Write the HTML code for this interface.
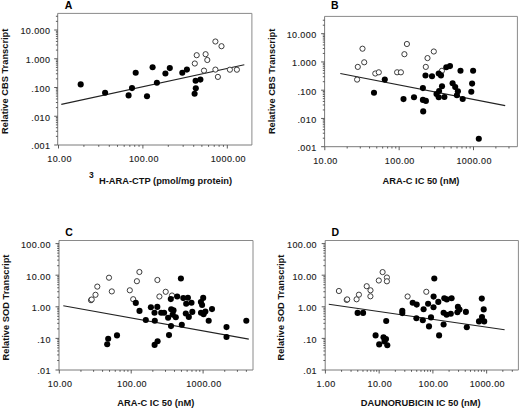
<!DOCTYPE html><html><head><meta charset="utf-8"><style>html,body{margin:0;padding:0;background:#fff;width:520px;height:409px;overflow:hidden}svg{display:block}text{font-family:"Liberation Sans", sans-serif}.t{font-size:9.0px;fill:#1a1a1a;stroke:#1a1a1a;stroke-width:0.12px;letter-spacing:0.4px}.b{font-size:9.3px;font-weight:bold;fill:#111}.p{font-size:10.5px;font-weight:bold;fill:#000}</style></head><body>
<svg width="520" height="409" viewBox="0 0 520 409">
<path d="M57.70 13.40H251.90V145.00" fill="none" stroke="#8a8a8a" stroke-width="1"/>
<path d="M57.70 13.40V145.00H251.90" fill="none" stroke="#7a7a7a" stroke-width="1"/>
<path d="M54.20 145.00H57.70M55.90 136.35H57.70M55.90 131.28H57.70M55.90 127.69H57.70M55.90 124.90H57.70M55.90 122.63H57.70M55.90 120.70H57.70M55.90 119.04H57.70M55.90 117.57H57.70M54.20 116.25H57.70M55.90 107.60H57.70M55.90 102.53H57.70M55.90 98.94H57.70M55.90 96.15H57.70M55.90 93.88H57.70M55.90 91.95H57.70M55.90 90.29H57.70M55.90 88.82H57.70M54.20 87.50H57.70M55.90 78.85H57.70M55.90 73.78H57.70M55.90 70.19H57.70M55.90 67.40H57.70M55.90 65.13H57.70M55.90 63.20H57.70M55.90 61.54H57.70M55.90 60.07H57.70M54.20 58.75H57.70M55.90 50.10H57.70M55.90 45.03H57.70M55.90 41.44H57.70M55.90 38.65H57.70M55.90 36.38H57.70M55.90 34.45H57.70M55.90 32.79H57.70M55.90 31.32H57.70M54.20 30.00H57.70M55.90 21.35H57.70M55.90 16.28H57.70M58.50 145.00V148.50M83.91 145.00V146.80M98.77 145.00V146.80M109.31 145.00V146.80M117.49 145.00V146.80M124.18 145.00V146.80M129.83 145.00V146.80M134.72 145.00V146.80M139.04 145.00V146.80M142.90 145.00V148.50M168.31 145.00V146.80M183.17 145.00V146.80M193.71 145.00V146.80M201.89 145.00V146.80M208.58 145.00V146.80M214.23 145.00V146.80M219.12 145.00V146.80M223.44 145.00V146.80M227.30 145.00V148.50" stroke="#4a4a4a" stroke-width="0.9" fill="none"/>
<text class="t" x="50.40" y="149.30" text-anchor="end">.001</text>
<text class="t" x="50.40" y="120.55" text-anchor="end">.010</text>
<text class="t" x="50.40" y="91.80" text-anchor="end">.100</text>
<text class="t" x="50.40" y="63.05" text-anchor="end">1.000</text>
<text class="t" x="50.40" y="34.30" text-anchor="end">10.000</text>
<text class="t" x="59.55" y="161.80" text-anchor="middle">10.00</text>
<text class="t" x="143.95" y="161.80" text-anchor="middle">100.00</text>
<text class="t" x="228.35" y="161.80" text-anchor="middle">1000.00</text>
<line x1="61.30" y1="104.40" x2="244.30" y2="64.80" stroke="#222" stroke-width="1.1"/>
<circle cx="194.80" cy="63.50" r="2.60" fill="#fff" stroke="#333" stroke-width="0.95"/>
<circle cx="207.30" cy="60.00" r="2.60" fill="#fff" stroke="#333" stroke-width="0.95"/>
<circle cx="204.00" cy="70.60" r="2.60" fill="#fff" stroke="#333" stroke-width="0.95"/>
<circle cx="215.40" cy="69.60" r="2.60" fill="#fff" stroke="#333" stroke-width="0.95"/>
<circle cx="217.90" cy="76.90" r="2.60" fill="#fff" stroke="#333" stroke-width="0.95"/>
<circle cx="229.90" cy="69.70" r="2.60" fill="#fff" stroke="#333" stroke-width="0.95"/>
<circle cx="236.90" cy="69.70" r="2.60" fill="#fff" stroke="#333" stroke-width="0.95"/>
<circle cx="215.40" cy="41.50" r="2.60" fill="#fff" stroke="#333" stroke-width="0.95"/>
<circle cx="221.50" cy="46.20" r="2.60" fill="#fff" stroke="#333" stroke-width="0.95"/>
<circle cx="196.70" cy="55.20" r="2.60" fill="#fff" stroke="#333" stroke-width="0.95"/>
<circle cx="205.60" cy="54.20" r="2.60" fill="#fff" stroke="#333" stroke-width="0.95"/>
<circle cx="80.70" cy="84.40" r="3.05" fill="#000"/>
<circle cx="105.10" cy="92.70" r="3.05" fill="#000"/>
<circle cx="135.70" cy="72.70" r="3.05" fill="#000"/>
<circle cx="132.00" cy="88.10" r="3.05" fill="#000"/>
<circle cx="128.60" cy="95.40" r="3.05" fill="#000"/>
<circle cx="147.00" cy="96.20" r="3.05" fill="#000"/>
<circle cx="152.60" cy="67.30" r="3.05" fill="#000"/>
<circle cx="156.90" cy="82.70" r="3.05" fill="#000"/>
<circle cx="165.40" cy="73.50" r="3.05" fill="#000"/>
<circle cx="169.80" cy="68.10" r="3.05" fill="#000"/>
<circle cx="182.30" cy="72.70" r="3.05" fill="#000"/>
<circle cx="186.90" cy="69.60" r="3.05" fill="#000"/>
<circle cx="195.60" cy="80.80" r="3.05" fill="#000"/>
<circle cx="200.40" cy="79.60" r="3.05" fill="#000"/>
<circle cx="195.80" cy="88.30" r="3.05" fill="#000"/>
<circle cx="194.60" cy="93.70" r="3.05" fill="#000"/>
<text class="p" x="68.50" y="9.00" text-anchor="middle">A</text>
<text class="b" transform="translate(7.90 81.30) rotate(-90)" text-anchor="middle">Relative CBS Transcript</text>
<text class="b" x="88.90" y="177.60" style="font-size:8.5px">3</text>
<text class="b" x="99.00" y="184.30">H-ARA-CTP (pmol/mg protein)</text>
<path d="M324.60 16.40H517.40V146.70" fill="none" stroke="#8a8a8a" stroke-width="1"/>
<path d="M324.60 16.40V146.70H517.40" fill="none" stroke="#7a7a7a" stroke-width="1"/>
<path d="M321.10 146.70H324.60M322.80 138.20H324.60M322.80 133.22H324.60M322.80 129.69H324.60M322.80 126.95H324.60M322.80 124.72H324.60M322.80 122.83H324.60M322.80 121.19H324.60M322.80 119.74H324.60M321.10 118.45H324.60M322.80 109.95H324.60M322.80 104.97H324.60M322.80 101.44H324.60M322.80 98.70H324.60M322.80 96.47H324.60M322.80 94.58H324.60M322.80 92.94H324.60M322.80 91.49H324.60M321.10 90.20H324.60M322.80 81.70H324.60M322.80 76.72H324.60M322.80 73.19H324.60M322.80 70.45H324.60M322.80 68.22H324.60M322.80 66.33H324.60M322.80 64.69H324.60M322.80 63.24H324.60M321.10 61.95H324.60M322.80 53.45H324.60M322.80 48.47H324.60M322.80 44.94H324.60M322.80 42.20H324.60M322.80 39.97H324.60M322.80 38.08H324.60M322.80 36.44H324.60M322.80 34.99H324.60M321.10 33.70H324.60M322.80 25.20H324.60M322.80 20.22H324.60M324.80 146.70V150.20M347.18 146.70V148.50M360.27 146.70V148.50M369.56 146.70V148.50M376.77 146.70V148.50M382.66 146.70V148.50M387.63 146.70V148.50M391.94 146.70V148.50M395.75 146.70V148.50M399.15 146.70V150.20M421.53 146.70V148.50M434.62 146.70V148.50M443.91 146.70V148.50M451.12 146.70V148.50M457.01 146.70V148.50M461.98 146.70V148.50M466.29 146.70V148.50M470.10 146.70V148.50M473.50 146.70V150.20M495.88 146.70V148.50M508.97 146.70V148.50" stroke="#4a4a4a" stroke-width="0.9" fill="none"/>
<text class="t" x="316.60" y="151.00" text-anchor="end">.001</text>
<text class="t" x="316.60" y="122.75" text-anchor="end">.010</text>
<text class="t" x="316.60" y="94.50" text-anchor="end">.100</text>
<text class="t" x="316.60" y="66.25" text-anchor="end">1.000</text>
<text class="t" x="316.60" y="38.00" text-anchor="end">10.000</text>
<text class="t" x="325.45" y="163.80" text-anchor="middle">10.00</text>
<text class="t" x="399.80" y="163.80" text-anchor="middle">100.00</text>
<text class="t" x="474.15" y="163.80" text-anchor="middle">1000.00</text>
<line x1="340.30" y1="73.50" x2="505.20" y2="105.60" stroke="#222" stroke-width="1.1"/>
<circle cx="362.50" cy="48.70" r="2.60" fill="#fff" stroke="#333" stroke-width="0.95"/>
<circle cx="364.20" cy="62.30" r="2.60" fill="#fff" stroke="#333" stroke-width="0.95"/>
<circle cx="357.80" cy="66.90" r="2.60" fill="#fff" stroke="#333" stroke-width="0.95"/>
<circle cx="375.30" cy="73.50" r="2.60" fill="#fff" stroke="#333" stroke-width="0.95"/>
<circle cx="378.80" cy="72.30" r="2.60" fill="#fff" stroke="#333" stroke-width="0.95"/>
<circle cx="397.10" cy="72.30" r="2.60" fill="#fff" stroke="#333" stroke-width="0.95"/>
<circle cx="400.90" cy="72.30" r="2.60" fill="#fff" stroke="#333" stroke-width="0.95"/>
<circle cx="404.40" cy="54.20" r="2.60" fill="#fff" stroke="#333" stroke-width="0.95"/>
<circle cx="406.90" cy="44.00" r="2.60" fill="#fff" stroke="#333" stroke-width="0.95"/>
<circle cx="357.10" cy="79.60" r="2.60" fill="#fff" stroke="#333" stroke-width="0.95"/>
<circle cx="433.80" cy="51.50" r="2.60" fill="#fff" stroke="#333" stroke-width="0.95"/>
<circle cx="427.50" cy="58.10" r="2.60" fill="#fff" stroke="#333" stroke-width="0.95"/>
<circle cx="425.80" cy="66.90" r="2.60" fill="#fff" stroke="#333" stroke-width="0.95"/>
<circle cx="441.90" cy="70.80" r="2.60" fill="#fff" stroke="#333" stroke-width="0.95"/>
<circle cx="384.80" cy="79.60" r="3.05" fill="#000"/>
<circle cx="374.00" cy="92.70" r="3.05" fill="#000"/>
<circle cx="403.50" cy="99.10" r="3.05" fill="#000"/>
<circle cx="414.00" cy="97.20" r="3.05" fill="#000"/>
<circle cx="422.90" cy="88.10" r="3.05" fill="#000"/>
<circle cx="422.90" cy="99.90" r="3.05" fill="#000"/>
<circle cx="425.90" cy="100.90" r="3.05" fill="#000"/>
<circle cx="423.20" cy="111.40" r="3.05" fill="#000"/>
<circle cx="425.50" cy="75.50" r="3.05" fill="#000"/>
<circle cx="432.00" cy="76.20" r="3.05" fill="#000"/>
<circle cx="438.70" cy="73.50" r="3.05" fill="#000"/>
<circle cx="441.00" cy="75.40" r="3.05" fill="#000"/>
<circle cx="446.30" cy="67.20" r="3.05" fill="#000"/>
<circle cx="450.00" cy="66.10" r="3.05" fill="#000"/>
<circle cx="460.50" cy="70.80" r="3.05" fill="#000"/>
<circle cx="473.10" cy="70.80" r="3.05" fill="#000"/>
<circle cx="442.00" cy="86.20" r="3.05" fill="#000"/>
<circle cx="439.10" cy="91.00" r="3.05" fill="#000"/>
<circle cx="436.50" cy="94.10" r="3.05" fill="#000"/>
<circle cx="438.70" cy="97.20" r="3.05" fill="#000"/>
<circle cx="444.40" cy="97.00" r="3.05" fill="#000"/>
<circle cx="452.60" cy="83.30" r="3.05" fill="#000"/>
<circle cx="455.20" cy="87.10" r="3.05" fill="#000"/>
<circle cx="457.90" cy="91.30" r="3.05" fill="#000"/>
<circle cx="456.90" cy="95.30" r="3.05" fill="#000"/>
<circle cx="462.70" cy="99.00" r="3.05" fill="#000"/>
<circle cx="472.10" cy="83.60" r="3.05" fill="#000"/>
<circle cx="471.30" cy="91.70" r="3.05" fill="#000"/>
<circle cx="478.80" cy="138.70" r="3.05" fill="#000"/>
<text class="p" x="334.70" y="9.00" text-anchor="middle">B</text>
<text class="b" transform="translate(274.80 81.40) rotate(-90)" text-anchor="middle">Relative CBS Transcript</text>
<text class="b" x="421.00" y="183.60" text-anchor="middle">ARA-C IC 50 (nM)</text>
<path d="M59.00 240.50H253.00V370.00" fill="none" stroke="#8a8a8a" stroke-width="1"/>
<path d="M59.00 240.50V370.00H253.00" fill="none" stroke="#7a7a7a" stroke-width="1"/>
<path d="M55.50 370.00H59.00M57.20 360.49H59.00M57.20 354.92H59.00M57.20 350.97H59.00M57.20 347.91H59.00M57.20 345.41H59.00M57.20 343.29H59.00M57.20 341.46H59.00M57.20 339.85H59.00M55.50 338.40H59.00M57.20 328.89H59.00M57.20 323.32H59.00M57.20 319.37H59.00M57.20 316.31H59.00M57.20 313.81H59.00M57.20 311.69H59.00M57.20 309.86H59.00M57.20 308.25H59.00M55.50 306.80H59.00M57.20 297.29H59.00M57.20 291.72H59.00M57.20 287.77H59.00M57.20 284.71H59.00M57.20 282.21H59.00M57.20 280.09H59.00M57.20 278.26H59.00M57.20 276.65H59.00M55.50 275.20H59.00M57.20 265.69H59.00M57.20 260.12H59.00M57.20 256.17H59.00M57.20 253.11H59.00M57.20 250.61H59.00M57.20 248.49H59.00M57.20 246.66H59.00M57.20 245.05H59.00M55.50 243.60H59.00M59.30 370.00V373.50M80.94 370.00V371.80M93.61 370.00V371.80M102.59 370.00V371.80M109.56 370.00V371.80M115.25 370.00V371.80M120.06 370.00V371.80M124.23 370.00V371.80M127.91 370.00V371.80M131.20 370.00V373.50M152.84 370.00V371.80M165.51 370.00V371.80M174.49 370.00V371.80M181.46 370.00V371.80M187.15 370.00V371.80M191.96 370.00V371.80M196.13 370.00V371.80M199.81 370.00V371.80M203.10 370.00V373.50M224.74 370.00V371.80M237.41 370.00V371.80M246.39 370.00V371.80" stroke="#4a4a4a" stroke-width="0.9" fill="none"/>
<text class="t" x="50.90" y="374.30" text-anchor="end">.01</text>
<text class="t" x="50.90" y="342.70" text-anchor="end">.10</text>
<text class="t" x="50.90" y="311.10" text-anchor="end">1.00</text>
<text class="t" x="50.90" y="279.50" text-anchor="end">10.00</text>
<text class="t" x="50.90" y="247.90" text-anchor="end">100.00</text>
<text class="t" x="60.10" y="386.70" text-anchor="middle">10.00</text>
<text class="t" x="132.00" y="386.70" text-anchor="middle">100.00</text>
<text class="t" x="203.90" y="386.70" text-anchor="middle">1000.00</text>
<line x1="63.30" y1="305.80" x2="248.80" y2="339.10" stroke="#222" stroke-width="1.1"/>
<circle cx="109.00" cy="277.70" r="2.60" fill="#fff" stroke="#333" stroke-width="0.95"/>
<circle cx="97.30" cy="286.60" r="2.60" fill="#fff" stroke="#333" stroke-width="0.95"/>
<circle cx="95.50" cy="294.80" r="2.60" fill="#fff" stroke="#333" stroke-width="0.95"/>
<circle cx="91.00" cy="300.20" r="2.60" fill="#fff" stroke="#333" stroke-width="0.95"/>
<circle cx="91.70" cy="299.50" r="2.60" fill="#fff" stroke="#333" stroke-width="0.95"/>
<circle cx="111.80" cy="291.40" r="2.60" fill="#fff" stroke="#333" stroke-width="0.95"/>
<circle cx="129.80" cy="290.30" r="2.60" fill="#fff" stroke="#333" stroke-width="0.95"/>
<circle cx="136.90" cy="281.20" r="2.60" fill="#fff" stroke="#333" stroke-width="0.95"/>
<circle cx="139.40" cy="272.00" r="2.60" fill="#fff" stroke="#333" stroke-width="0.95"/>
<circle cx="133.20" cy="299.20" r="2.60" fill="#fff" stroke="#333" stroke-width="0.95"/>
<circle cx="157.40" cy="280.00" r="2.60" fill="#fff" stroke="#333" stroke-width="0.95"/>
<circle cx="165.70" cy="291.80" r="2.60" fill="#fff" stroke="#333" stroke-width="0.95"/>
<circle cx="159.40" cy="296.50" r="2.60" fill="#fff" stroke="#333" stroke-width="0.95"/>
<circle cx="172.00" cy="295.50" r="2.60" fill="#fff" stroke="#333" stroke-width="0.95"/>
<circle cx="135.80" cy="302.90" r="3.05" fill="#000"/>
<circle cx="139.50" cy="310.90" r="3.05" fill="#000"/>
<circle cx="150.90" cy="307.30" r="3.05" fill="#000"/>
<circle cx="157.30" cy="306.90" r="3.05" fill="#000"/>
<circle cx="154.50" cy="312.80" r="3.05" fill="#000"/>
<circle cx="161.20" cy="312.80" r="3.05" fill="#000"/>
<circle cx="164.10" cy="312.80" r="3.05" fill="#000"/>
<circle cx="145.80" cy="320.00" r="3.05" fill="#000"/>
<circle cx="154.80" cy="320.80" r="3.05" fill="#000"/>
<circle cx="170.80" cy="299.10" r="3.05" fill="#000"/>
<circle cx="177.20" cy="296.50" r="3.05" fill="#000"/>
<circle cx="183.30" cy="298.10" r="3.05" fill="#000"/>
<circle cx="187.90" cy="297.70" r="3.05" fill="#000"/>
<circle cx="186.20" cy="303.80" r="3.05" fill="#000"/>
<circle cx="191.50" cy="302.70" r="3.05" fill="#000"/>
<circle cx="203.20" cy="297.90" r="3.05" fill="#000"/>
<circle cx="200.90" cy="302.10" r="3.05" fill="#000"/>
<circle cx="202.10" cy="305.00" r="3.05" fill="#000"/>
<circle cx="171.20" cy="309.20" r="3.05" fill="#000"/>
<circle cx="173.50" cy="310.40" r="3.05" fill="#000"/>
<circle cx="172.70" cy="314.60" r="3.05" fill="#000"/>
<circle cx="168.10" cy="317.70" r="3.05" fill="#000"/>
<circle cx="175.80" cy="317.30" r="3.05" fill="#000"/>
<circle cx="185.80" cy="313.50" r="3.05" fill="#000"/>
<circle cx="192.30" cy="311.90" r="3.05" fill="#000"/>
<circle cx="188.80" cy="316.90" r="3.05" fill="#000"/>
<circle cx="201.00" cy="312.70" r="3.05" fill="#000"/>
<circle cx="180.90" cy="278.50" r="3.05" fill="#000"/>
<circle cx="212.00" cy="309.10" r="3.05" fill="#000"/>
<circle cx="205.40" cy="311.60" r="3.05" fill="#000"/>
<circle cx="203.60" cy="314.20" r="3.05" fill="#000"/>
<circle cx="208.70" cy="320.80" r="3.05" fill="#000"/>
<circle cx="226.50" cy="327.10" r="3.05" fill="#000"/>
<circle cx="226.50" cy="337.00" r="3.05" fill="#000"/>
<circle cx="246.30" cy="320.80" r="3.05" fill="#000"/>
<circle cx="171.00" cy="326.10" r="3.05" fill="#000"/>
<circle cx="181.80" cy="324.70" r="3.05" fill="#000"/>
<circle cx="169.00" cy="335.10" r="3.05" fill="#000"/>
<circle cx="157.60" cy="341.30" r="3.05" fill="#000"/>
<circle cx="154.60" cy="344.90" r="3.05" fill="#000"/>
<circle cx="117.00" cy="335.40" r="3.05" fill="#000"/>
<circle cx="108.20" cy="338.80" r="3.05" fill="#000"/>
<circle cx="107.20" cy="344.30" r="3.05" fill="#000"/>
<text class="p" x="69.00" y="236.20" text-anchor="middle">C</text>
<text class="b" transform="translate(9.00 307.50) rotate(-90)" text-anchor="middle">Relative SOD Transcript</text>
<text class="b" x="155.80" y="406.40" text-anchor="middle">ARA-C IC 50 (nM)</text>
<path d="M325.20 240.50H518.40V370.00" fill="none" stroke="#8a8a8a" stroke-width="1"/>
<path d="M325.20 240.50V370.00H518.40" fill="none" stroke="#7a7a7a" stroke-width="1"/>
<path d="M321.70 370.00H325.20M323.40 360.49H325.20M323.40 354.92H325.20M323.40 350.97H325.20M323.40 347.91H325.20M323.40 345.41H325.20M323.40 343.29H325.20M323.40 341.46H325.20M323.40 339.85H325.20M321.70 338.40H325.20M323.40 328.89H325.20M323.40 323.32H325.20M323.40 319.37H325.20M323.40 316.31H325.20M323.40 313.81H325.20M323.40 311.69H325.20M323.40 309.86H325.20M323.40 308.25H325.20M321.70 306.80H325.20M323.40 297.29H325.20M323.40 291.72H325.20M323.40 287.77H325.20M323.40 284.71H325.20M323.40 282.21H325.20M323.40 280.09H325.20M323.40 278.26H325.20M323.40 276.65H325.20M321.70 275.20H325.20M323.40 265.69H325.20M323.40 260.12H325.20M323.40 256.17H325.20M323.40 253.11H325.20M323.40 250.61H325.20M323.40 248.49H325.20M323.40 246.66H325.20M323.40 245.05H325.20M321.70 243.60H325.20M325.40 370.00V373.50M341.58 370.00V371.80M351.05 370.00V371.80M357.76 370.00V371.80M362.97 370.00V371.80M367.23 370.00V371.80M370.82 370.00V371.80M373.94 370.00V371.80M376.69 370.00V371.80M379.15 370.00V373.50M395.33 370.00V371.80M404.80 370.00V371.80M411.51 370.00V371.80M416.72 370.00V371.80M420.98 370.00V371.80M424.57 370.00V371.80M427.69 370.00V371.80M430.44 370.00V371.80M432.90 370.00V373.50M449.08 370.00V371.80M458.55 370.00V371.80M465.26 370.00V371.80M470.47 370.00V371.80M474.73 370.00V371.80M478.32 370.00V371.80M481.44 370.00V371.80M484.19 370.00V371.80M486.65 370.00V373.50M502.83 370.00V371.80M512.30 370.00V371.80" stroke="#4a4a4a" stroke-width="0.9" fill="none"/>
<text class="t" x="317.00" y="374.30" text-anchor="end">.01</text>
<text class="t" x="317.00" y="342.70" text-anchor="end">.10</text>
<text class="t" x="317.00" y="311.10" text-anchor="end">1.00</text>
<text class="t" x="317.00" y="279.50" text-anchor="end">10.00</text>
<text class="t" x="317.00" y="247.90" text-anchor="end">100.00</text>
<text class="t" x="326.05" y="386.70" text-anchor="middle">1.00</text>
<text class="t" x="379.80" y="386.70" text-anchor="middle">10.00</text>
<text class="t" x="433.55" y="386.70" text-anchor="middle">100.00</text>
<text class="t" x="487.30" y="386.70" text-anchor="middle">1000.00</text>
<line x1="328.80" y1="304.20" x2="504.60" y2="329.70" stroke="#222" stroke-width="1.1"/>
<circle cx="338.90" cy="291.00" r="2.60" fill="#fff" stroke="#333" stroke-width="0.95"/>
<circle cx="346.70" cy="299.90" r="2.60" fill="#fff" stroke="#333" stroke-width="0.95"/>
<circle cx="347.20" cy="299.40" r="2.60" fill="#fff" stroke="#333" stroke-width="0.95"/>
<circle cx="356.60" cy="299.30" r="2.60" fill="#fff" stroke="#333" stroke-width="0.95"/>
<circle cx="358.90" cy="294.70" r="2.60" fill="#fff" stroke="#333" stroke-width="0.95"/>
<circle cx="366.70" cy="286.20" r="2.60" fill="#fff" stroke="#333" stroke-width="0.95"/>
<circle cx="370.50" cy="290.30" r="2.60" fill="#fff" stroke="#333" stroke-width="0.95"/>
<circle cx="370.40" cy="296.30" r="2.60" fill="#fff" stroke="#333" stroke-width="0.95"/>
<circle cx="378.80" cy="280.50" r="2.60" fill="#fff" stroke="#333" stroke-width="0.95"/>
<circle cx="382.60" cy="272.10" r="2.60" fill="#fff" stroke="#333" stroke-width="0.95"/>
<circle cx="386.90" cy="277.50" r="2.60" fill="#fff" stroke="#333" stroke-width="0.95"/>
<circle cx="386.90" cy="281.30" r="2.60" fill="#fff" stroke="#333" stroke-width="0.95"/>
<circle cx="407.60" cy="296.50" r="2.60" fill="#fff" stroke="#333" stroke-width="0.95"/>
<circle cx="426.30" cy="291.80" r="2.60" fill="#fff" stroke="#333" stroke-width="0.95"/>
<circle cx="357.60" cy="312.90" r="3.05" fill="#000"/>
<circle cx="363.10" cy="312.90" r="3.05" fill="#000"/>
<circle cx="386.20" cy="321.00" r="3.05" fill="#000"/>
<circle cx="375.60" cy="335.40" r="3.05" fill="#000"/>
<circle cx="383.50" cy="337.20" r="3.05" fill="#000"/>
<circle cx="386.00" cy="339.10" r="3.05" fill="#000"/>
<circle cx="379.20" cy="344.40" r="3.05" fill="#000"/>
<circle cx="387.30" cy="345.30" r="3.05" fill="#000"/>
<circle cx="384.50" cy="341.40" r="3.05" fill="#000"/>
<circle cx="434.30" cy="278.50" r="3.05" fill="#000"/>
<circle cx="433.60" cy="296.60" r="3.05" fill="#000"/>
<circle cx="412.70" cy="302.70" r="3.05" fill="#000"/>
<circle cx="416.70" cy="304.60" r="3.05" fill="#000"/>
<circle cx="428.10" cy="303.70" r="3.05" fill="#000"/>
<circle cx="423.60" cy="309.20" r="3.05" fill="#000"/>
<circle cx="402.30" cy="310.80" r="3.05" fill="#000"/>
<circle cx="402.30" cy="313.10" r="3.05" fill="#000"/>
<circle cx="433.50" cy="307.30" r="3.05" fill="#000"/>
<circle cx="416.40" cy="318.30" r="3.05" fill="#000"/>
<circle cx="422.80" cy="320.20" r="3.05" fill="#000"/>
<circle cx="431.00" cy="317.40" r="3.05" fill="#000"/>
<circle cx="429.00" cy="326.40" r="3.05" fill="#000"/>
<circle cx="443.60" cy="324.50" r="3.05" fill="#000"/>
<circle cx="439.10" cy="335.40" r="3.05" fill="#000"/>
<circle cx="438.30" cy="301.90" r="3.05" fill="#000"/>
<circle cx="444.30" cy="298.30" r="3.05" fill="#000"/>
<circle cx="446.80" cy="299.40" r="3.05" fill="#000"/>
<circle cx="451.60" cy="298.30" r="3.05" fill="#000"/>
<circle cx="457.90" cy="306.90" r="3.05" fill="#000"/>
<circle cx="459.50" cy="309.60" r="3.05" fill="#000"/>
<circle cx="457.40" cy="312.30" r="3.05" fill="#000"/>
<circle cx="465.90" cy="311.90" r="3.05" fill="#000"/>
<circle cx="443.60" cy="312.80" r="3.05" fill="#000"/>
<circle cx="446.60" cy="314.80" r="3.05" fill="#000"/>
<circle cx="450.80" cy="313.80" r="3.05" fill="#000"/>
<circle cx="466.80" cy="327.30" r="3.05" fill="#000"/>
<circle cx="481.80" cy="298.60" r="3.05" fill="#000"/>
<circle cx="483.70" cy="309.40" r="3.05" fill="#000"/>
<circle cx="482.00" cy="317.10" r="3.05" fill="#000"/>
<circle cx="479.00" cy="321.40" r="3.05" fill="#000"/>
<circle cx="484.20" cy="321.40" r="3.05" fill="#000"/>
<text class="p" x="335.20" y="236.00" text-anchor="middle">D</text>
<text class="b" transform="translate(284.00 307.60) rotate(-90)" text-anchor="middle">Relative SOD Transcript</text>
<text class="b" x="420.70" y="405.90" text-anchor="middle">DAUNORUBICIN IC 50 (nM)</text>
</svg></body></html>
